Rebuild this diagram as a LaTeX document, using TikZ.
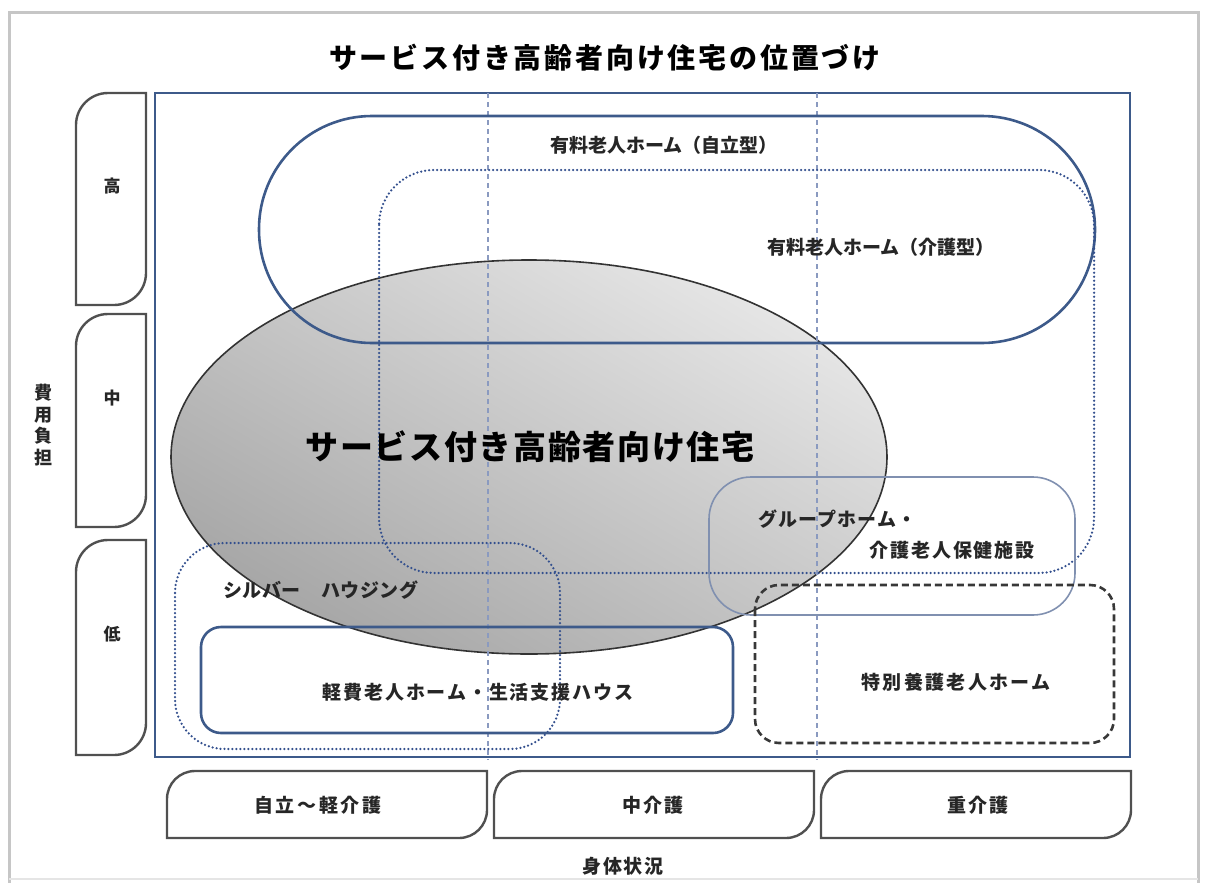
\documentclass[tikz,border=0pt]{standalone}
\usepackage{fontspec}
\setmainfont{Noto Sans CJK JP}
\usetikzlibrary{shapes.geometric}
\definecolor{frameblue}{HTML}{3D5A8A}
\definecolor{dotblue}{HTML}{34508E}
\definecolor{ghblue}{HTML}{8090B0}
\definecolor{vline}{HTML}{8A9AC0}
\definecolor{tabgray}{HTML}{505050}
\definecolor{ellDark}{HTML}{A6A6A6}
\definecolor{ellLight}{HTML}{E6E6E6}
\newcommand\tabbox[5]{%
  \draw[tabline] (#1,-#4) -- (#1,-#2-#5) arc[start angle=180,end angle=90,radius=#5]
    -- (#3,-#2) -- (#3,-#4+#5) arc[start angle=0,end angle=-90,radius=#5] -- cycle;}
\newcommand\lsp[1]{\addfontfeature{LetterSpace=#1}}
\tikzset{
  tabline/.style={draw=tabgray, line width=2.4pt},
  solidbox/.style={draw=frameblue, line width=2.6pt},
  dotbox/.style={draw=dotblue, line width=2.5pt, dash pattern=on 0pt off 4pt, line cap=round},
  dashbox/.style={draw=black!78, line width=2.6pt, dash pattern=on 7pt off 4pt},
  vdash/.style={draw=vline, line width=1.3pt, dash pattern=on 5pt off 4pt},
  lbl/.style={inner sep=0pt, text=black!85, font=\fontsize{19}{21}\selectfont},
}
\begin{document}
\begin{tikzpicture}[x=1pt,y=1pt]
\useasboundingbox (0,0) rectangle (1207,-883);
% outer frame
\draw[gray!45, line width=3pt] (9,-883) -- (9,-13) -- (1198,-13) -- (1198,-883);
\draw[gray!20, line width=2pt] (9,-879) -- (1198,-879);
% title
\node[inner sep=0pt, font={\fontsize{28}{30}\selectfont\bfseries\lsp{10}}] (title) at (605,-58) {サービス付き高齢者向け住宅の位置づけ};
% side tabs
\tabbox{76}{93}{146}{305}{32}
\tabbox{76}{314}{146}{527}{32}
\tabbox{76}{540}{146}{755}{32}
\node[lbl, font=\fontsize{17}{19}\selectfont\bfseries] (hi) at (112,-186) {高};
\node[lbl, font=\fontsize{17}{19}\selectfont\bfseries] (mid) at (112,-398) {中};
\node[lbl, font=\fontsize{17}{19}\selectfont\bfseries] (lo) at (112,-634) {低};
\node[lbl, align=center, font=\fontsize{18}{21.5}\selectfont\bfseries] (cost) at (43,-425) {費\\用\\負\\担};
% bottom tabs
\tabbox{167}{771}{487}{838}{28}
\tabbox{494}{771}{814}{838}{28}
\tabbox{821}{771}{1131}{838}{28}
\node[lbl, font={\fontsize{19}{21}\selectfont\bfseries\lsp{14}}] (b1) at (318,-805) {自立～軽介護};
\node[lbl, font={\fontsize{19}{21}\selectfont\bfseries\lsp{8}}] (b2) at (653,-805) {中介護};
\node[lbl, font={\fontsize{19}{21}\selectfont\bfseries\lsp{8}}] (b3) at (978,-805) {重介護};
\node[lbl, font={\fontsize{19}{21}\selectfont\bfseries\lsp{10}}] (body) at (623,-866) {身体状況};
% main frame
\draw[solidbox, line width=2.4pt] (155,-93) rectangle (1130,-757);
% ellipse
\shade[top color=ellLight, bottom color=ellDark, shading angle=-30] (529,-457) ellipse [x radius=358, y radius=197];
\draw[black!80, line width=1.6pt] (529,-457) ellipse [x radius=358, y radius=197];
% vertical dashed lines
\draw[vdash] (488,-93) -- (488,-760);
\draw[vdash] (817,-93) -- (817,-760);
% boxes
\draw[solidbox, rounded corners=113pt] (259,-116) rectangle (1095,-343);
\draw[dotbox, rounded corners=55pt] (379,-170) rectangle (1094,-573);
\draw[draw=ghblue, line width=1.6pt, rounded corners=42pt] (709,-477) rectangle (1075,-615);
\draw[dashbox, rounded corners=24pt] (755,-585) rectangle (1114,-743);
\draw[dotbox, rounded corners=50pt] (175,-543) rectangle (560,-749);
\draw[solidbox, rounded corners=20pt] (201,-627) rectangle (733,-733);
% labels
\node[lbl, font={\fontsize{19}{21}\selectfont\bfseries}] (jiritsu) at (664,-145) {有料老人ホーム（自立型）};
\node[lbl, font={\fontsize{19}{21}\selectfont\bfseries}] (kaigo) at (881,-247) {有料老人ホーム（介護型）};
\node[lbl, font={\fontsize{33}{36}\selectfont\bfseries\lsp{5}}, text=black] (sakoju) at (530,-447) {サービス付き高齢者向け住宅};
\node[lbl, anchor=west, font={\fontsize{19}{21}\selectfont\bfseries\lsp{6}}] (gh1) at (758,-519) {グループホーム・};
\node[lbl, anchor=east, font={\fontsize{19}{21}\selectfont\bfseries\lsp{10}}] (gh2) at (1035,-550) {介護老人保健施設};
\node[lbl, font={\fontsize{19}{21}\selectfont\bfseries\lsp{12}}] (tokuyo) at (956,-682) {特別養護老人ホーム};
\node[lbl, anchor=west, font={\fontsize{19}{21}\selectfont\bfseries\lsp{3}}] (silver) at (223,-590) {シルバー　ハウジング};
\node[lbl, font={\fontsize{19}{21}\selectfont\bfseries\lsp{10}}] (keihi) at (478,-692) {軽費老人ホーム・生活支援ハウス};
\end{tikzpicture}
\end{document}
